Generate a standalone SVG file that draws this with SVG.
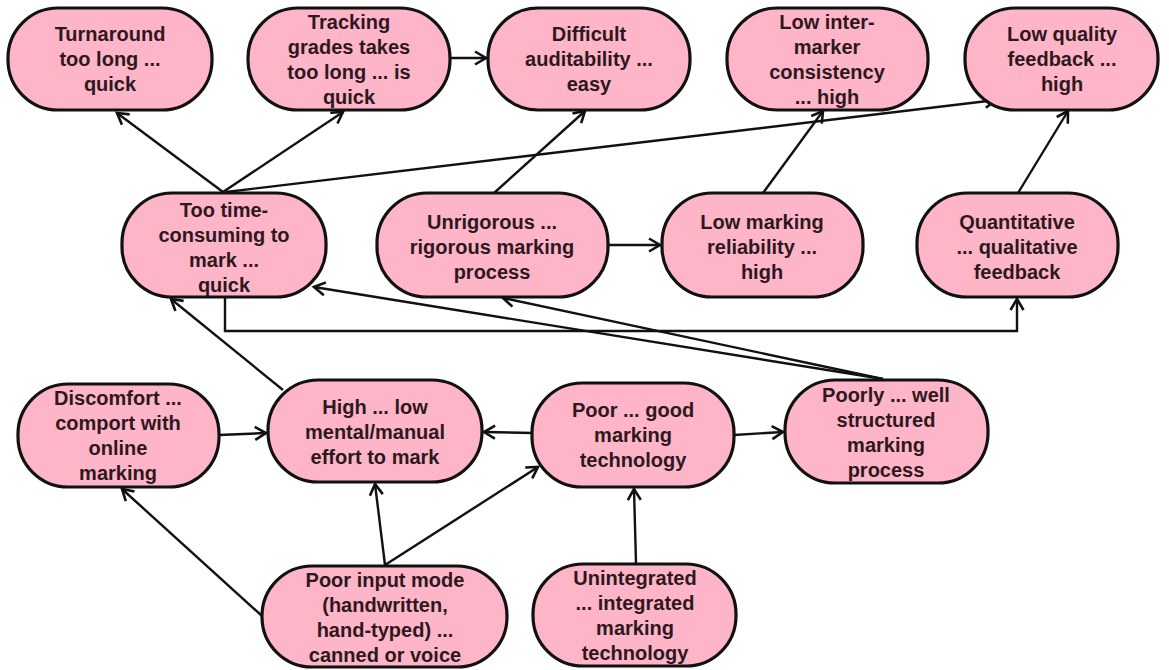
<svg xmlns="http://www.w3.org/2000/svg" width="1169" height="670" viewBox="0 0 1169 670">
<defs>
<style>
.node rect{fill:#ffb5c8;stroke:#111;stroke-width:3.2}
.node text{font-family:"Liberation Sans",Arial,sans-serif;font-weight:bold;font-size:20px;fill:#2e1820;text-anchor:middle;dominant-baseline:central}
.edges line,.edges polyline{stroke:#111;stroke-width:2.4;fill:none;marker-end:url(#arr)}
</style>
<marker id="arr" markerUnits="userSpaceOnUse" markerWidth="20" markerHeight="20" refX="13" refY="8" orient="auto">
<path d="M2,1.5 L13,8 L2,14.5" fill="none" stroke="#111" stroke-width="2.6" stroke-linejoin="miter"/>
</marker>
</defs>
<rect width="1169" height="670" fill="#fff"/>
<g class="edges">
<line x1="223" y1="192" x2="117" y2="113"/>
<line x1="223" y1="192" x2="343" y2="112"/>
<line x1="226" y1="192" x2="996" y2="100"/>
<line x1="450" y1="58" x2="486" y2="58"/>
<line x1="494" y1="193" x2="585" y2="111"/>
<line x1="763" y1="193" x2="823" y2="111"/>
<line x1="1018" y1="193" x2="1068" y2="111"/>
<line x1="608" y1="245" x2="660" y2="245"/>
<polyline points="225,297 225,331 1017,331 1017,299"/>
<line x1="883" y1="379" x2="314" y2="287"/>
<line x1="883" y1="379" x2="503" y2="298"/>
<line x1="283" y1="390" x2="171" y2="299"/>
<line x1="219" y1="435" x2="266" y2="433"/>
<line x1="533" y1="433" x2="484" y2="432"/>
<line x1="734" y1="435" x2="783" y2="432"/>
<line x1="385" y1="565" x2="375" y2="484"/>
<line x1="385" y1="565" x2="538" y2="467"/>
<line x1="262" y1="616" x2="122" y2="489"/>
<line x1="636" y1="563" x2="634" y2="489"/>
</g>
<g id="n1" class="node"><rect x="8" y="8" width="204" height="102" rx="50" ry="50"/><text x="110" y="34">Turnaround</text><text x="110" y="59">too long ...</text><text x="110" y="84">quick</text></g>
<g id="n2" class="node"><rect x="248" y="8" width="202" height="102" rx="50" ry="50"/><text x="349" y="21.5">Tracking</text><text x="349" y="46.5">grades takes</text><text x="349" y="71.5">too long ...  is</text><text x="349" y="96.5">quick</text></g>
<g id="n3" class="node"><rect x="488" y="8" width="202" height="102" rx="50" ry="50"/><text x="589" y="34">Difficult</text><text x="589" y="59">auditability ...</text><text x="589" y="84">easy</text></g>
<g id="n4" class="node"><rect x="727" y="8" width="201" height="102" rx="50" ry="50"/><text x="827" y="21.5">Low inter-</text><text x="827" y="46.5">marker</text><text x="827" y="71.5">consistency</text><text x="827" y="96.5">... high</text></g>
<g id="n5" class="node"><rect x="965" y="8" width="193" height="102" rx="50" ry="50"/><text x="1062" y="34">Low quality</text><text x="1062" y="59">feedback ...</text><text x="1062" y="84">high</text></g>
<g id="n6" class="node"><rect x="122" y="193" width="204" height="104" rx="50" ry="50"/><text x="224" y="209.5">Too time-</text><text x="224" y="234.5">consuming to</text><text x="224" y="259.5">mark ...</text><text x="224" y="284.5">quick</text></g>
<g id="n7" class="node"><rect x="377" y="193" width="231" height="104" rx="50" ry="50"/><text x="492" y="222">Unrigorous ...</text><text x="492" y="247">rigorous marking</text><text x="492" y="272">process</text></g>
<g id="n8" class="node"><rect x="662" y="193" width="201" height="104" rx="50" ry="50"/><text x="762" y="222">Low marking</text><text x="762" y="247">reliability ...</text><text x="762" y="272">high</text></g>
<g id="n9" class="node"><rect x="917" y="193" width="201" height="104" rx="50" ry="50"/><text x="1017" y="222">Quantitative</text><text x="1017" y="247">... qualitative</text><text x="1017" y="272">feedback</text></g>
<g id="n10" class="node"><rect x="18" y="384" width="201" height="103" rx="50" ry="50"/><text x="118" y="398">Discomfort ...</text><text x="118" y="423">comport with</text><text x="118" y="448">online</text><text x="118" y="473">marking</text></g>
<g id="n11" class="node"><rect x="268" y="380" width="214" height="102" rx="50" ry="50"/><text x="375" y="407">High ... low</text><text x="375" y="432">mental/manual</text><text x="375" y="457">effort to mark</text></g>
<g id="n12" class="node"><rect x="532" y="383" width="202" height="104" rx="50" ry="50"/><text x="633" y="410">Poor ... good</text><text x="633" y="435">marking</text><text x="633" y="460">technology</text></g>
<g id="n13" class="node"><rect x="785" y="380" width="203" height="103" rx="50" ry="50"/><text x="886" y="395">Poorly ... well</text><text x="886" y="420">structured</text><text x="886" y="445">marking</text><text x="886" y="470">process</text></g>
<g id="n14" class="node"><rect x="262" y="566" width="245" height="101" rx="50" ry="50"/><text x="385" y="580">Poor input mode</text><text x="385" y="605">(handwritten,</text><text x="385" y="630">hand-typed) ...</text><text x="385" y="655">canned or voice</text></g>
<g id="n15" class="node"><rect x="533" y="564" width="203" height="102" rx="50" ry="50"/><text x="635" y="578">Unintegrated</text><text x="635" y="603">... integrated</text><text x="635" y="628">marking</text><text x="635" y="653">technology</text></g>
</svg>
